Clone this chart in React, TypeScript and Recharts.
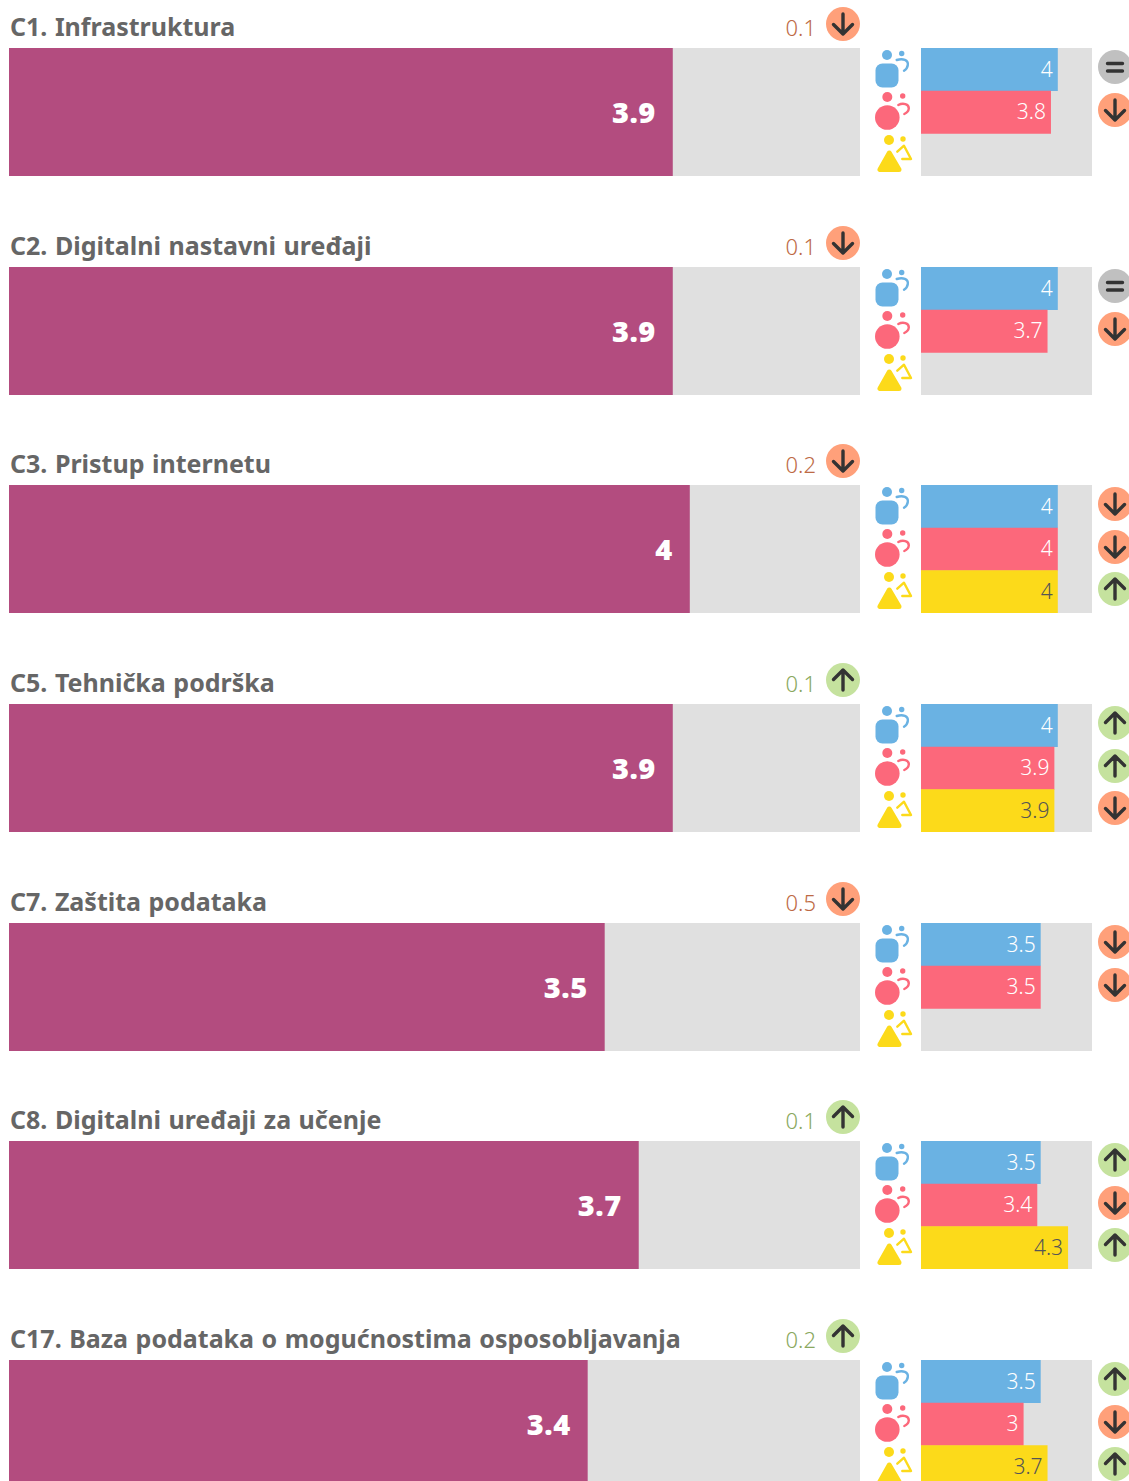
import React from 'react';
import { BarChart, Bar, XAxis, YAxis, Cell, LabelList } from 'recharts';

const titles = [
  'C1. Infrastruktura',
  'C2. Digitalni nastavni uređaji',
  'C3. Pristup internetu',
  'C5. Tehnička podrška',
  'C7. Zaštita podataka',
  'C8. Digitalni uređaji za učenje',
  'C17. Baza podataka o mogućnostima osposobljavanja',
];
const overall = [3.9, 3.9, 4, 3.9, 3.5, 3.7, 3.4];
const changeValues = [0.1, 0.1, 0.2, 0.1, 0.5, 0.1, 0.2];
const changeDirs = ['down', 'down', 'down', 'up', 'down', 'up', 'up'];

const groupBlue = [4, 4, 4, 4, 3.5, 3.5, 3.5];
const groupRed = [3.8, 3.7, 4, 3.9, 3.5, 3.4, 3];
const groupYellow = [null, null, 4, 3.9, null, 4.3, 3.7];

const dirsBlue = ['same', 'same', 'down', 'up', 'down', 'up', 'up'];
const dirsRed = ['down', 'down', 'down', 'up', 'down', 'down', 'down'];
const dirsYellow = [null, null, 'up', 'down', null, 'up', 'up'];

const PANEL_STEP = 218.67;
const PANEL_H = 128;
const PURPLE = '#b34c7f';
const GREY = '#e0e0e0';
const rowColors = ['#6ab2e3', '#fc687b', '#fcda1a'];
const rowLabelColors = ['#ffffff', '#ffffff', '#555555'];
const labelFont = '"Noto Sans", sans-serif';

function Arrow({ dir, style }: { dir: string; style: React.CSSProperties }) {
  const bg = dir === 'up' ? '#c5e29e' : dir === 'down' ? '#ffa07a' : '#c0c0c0';
  return (
    <svg width={34} height={34} viewBox="0 0 34 34" style={{ position: 'absolute', ...style }}>
      <circle cx={17} cy={17} r={17} fill={bg} />
      <g stroke="#333" strokeWidth={3.4} strokeLinecap="round" strokeLinejoin="round" fill="none">
        {dir === 'down' && <path d="M17 7V27M7.5 17.5L17 27L26.5 17.5" />}
        {dir === 'up' && <path d="M17 27V7M7.5 16.5L17 7L26.5 16.5" />}
        {dir === 'same' && <path d="M9.5 13.5H24.5M9.5 21H24.5" />}
      </g>
    </svg>
  );
}

// the three little people next to the small bars
function GroupIcons() {
  return (
    <svg width={42} height={128} style={{ position: 'absolute', left: 872, top: 0 }}>
      <g fill={rowColors[0]}>
        <circle cx={15} cy={7} r={5} />
        <rect x={3.5} y={15.5} width={23} height={24} rx={7} />
        <circle cx={29.7} cy={5.5} r={2.7} />
        <path d="M24.7 12C31 10 36.5 12 35.8 17C35.5 19.5 34 21.5 32 22.7" fill="none" stroke={rowColors[0]} strokeWidth={2.4} strokeLinecap="round" />
      </g>
      <g fill={rowColors[1]}>
        <circle cx={15.3} cy={49} r={5} />
        <circle cx={15.3} cy={69.5} r={12.3} />
        <circle cx={30.7} cy={48} r={2.7} />
        <path d="M26.3 57C31 54.5 37 56 36.8 60.5C36.6 63 34.5 65 32.3 66" fill="none" stroke={rowColors[1]} strokeWidth={2.4} strokeLinecap="round" />
      </g>
      <g fill={rowColors[2]}>
        <circle cx={17} cy={92} r={5} />
        <path d="M17.3 105L8 121.5H27Z" stroke={rowColors[2]} strokeWidth={5} strokeLinejoin="round" />
        <circle cx={31} cy={91} r={2.7} />
        <path d="M25.3 103.7L32 97.7L39 111H30.3" fill="none" stroke={rowColors[2]} strokeWidth={2.4} strokeLinecap="round" strokeLinejoin="round" />
      </g>
    </svg>
  );
}

function smallLabel(props: any) {
  const { x, y, width, height, value, index } = props;
  if (value == null) return null;
  return (
    <text x={x + width - 5} y={y + height / 2 - 1} textAnchor="end" dominantBaseline="central" fill={rowLabelColors[index]} fontFamily={labelFont} fontSize={21} fontWeight={300}>
      {value}
    </text>
  );
}

function bigLabel(props: any) {
  const { x, y, width, height, value } = props;
  return (
    <text x={x + width - 17} y={y + height / 2 - 1} textAnchor="end" dominantBaseline="central" fill="#fff" fontFamily={labelFont} fontSize={29} fontWeight={900} letterSpacing={0.5}>
      {value}
    </text>
  );
}

function Panel({ i }: { i: number }) {
  const big = [{ name: titles[i], value: overall[i] }];
  const rows = [
    { name: 'blue', value: groupBlue[i], dir: dirsBlue[i] },
    { name: 'red', value: groupRed[i], dir: dirsRed[i] },
    { name: 'yellow', value: groupYellow[i], dir: dirsYellow[i] },
  ];
  const up = changeDirs[i] === 'up';
  return (
    <div style={{ position: 'absolute', left: 0, top: Math.round(48 + i * PANEL_STEP), width: 1129, height: PANEL_H }}>
      <div style={{ position: 'absolute', left: 10, top: -39, fontFamily: '"Noto Sans", sans-serif', fontWeight: 700, fontSize: 25, wordSpacing: 1, lineHeight: '34px', color: '#666', whiteSpace: 'nowrap' }}>
        {titles[i]}
      </div>
      <div style={{ position: 'absolute', left: 760, width: 56, top: -36, textAlign: 'right', fontFamily: labelFont, fontWeight: 300, fontSize: 22, lineHeight: '30px', color: up ? '#8aa85e' : '#bd6a45' }}>
        {changeValues[i]}
      </div>
      <Arrow dir={changeDirs[i]} style={{ left: 826, top: -41 }} />

      <div style={{ position: 'absolute', left: 9, top: 0 }}>
        <BarChart width={851} height={PANEL_H} data={big} layout="vertical" margin={{ top: 0, right: 0, bottom: 0, left: 0 }} barCategoryGap={0}>
          <XAxis type="number" domain={[0, 5]} hide />
          <YAxis type="category" dataKey="name" hide />
          <Bar dataKey="value" fill={PURPLE} background={{ fill: GREY }} isAnimationActive={false}>
            <LabelList dataKey="value" content={bigLabel} />
          </Bar>
        </BarChart>
      </div>

      <GroupIcons />

      <div style={{ position: 'absolute', left: 921, top: 0 }}>
        <BarChart width={171} height={PANEL_H} data={rows} layout="vertical" margin={{ top: 0, right: 0, bottom: 0, left: 0 }} barCategoryGap={0} style={{ background: GREY }}>
          <XAxis type="number" domain={[0, 5]} hide />
          <YAxis type="category" dataKey="name" hide />
          <Bar dataKey="value" isAnimationActive={false}>
            {rows.map((r, k) => <Cell key={r.name} fill={rowColors[k]} />)}
            <LabelList dataKey="value" content={smallLabel} />
          </Bar>
        </BarChart>
      </div>

      {rows.map((r, k) => r.dir && <Arrow key={r.name} dir={r.dir} style={{ left: 1098, top: 2 + k * 42.5 }} />)}
    </div>
  );
}

export default function App() {
  return (
    <div style={{ position: 'absolute', left: 0, top: 0, width: 1129, height: 1481, overflow: 'hidden', background: '#fff' }}>
      {titles.map((t, i) => <Panel key={t} i={i} />)}
    </div>
  );
}
